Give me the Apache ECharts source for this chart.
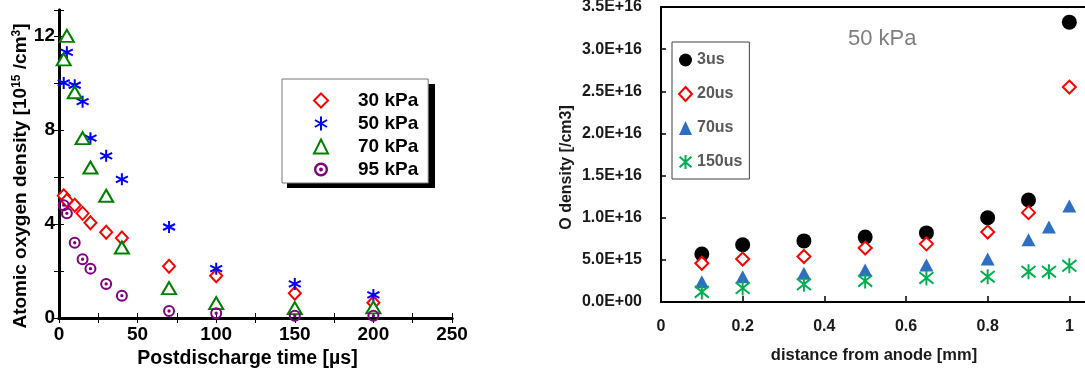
<!DOCTYPE html>
<html>
<head>
<meta charset="utf-8">
<script src="https://cdn.jsdelivr.net/npm/echarts@6/dist/echarts.min.js"></script>
<style>html,body{margin:0;padding:0;background:#fff}#c{width:1085px;height:369px}</style>
</head>
<body>
<div id="c"></div>
<script>
// ---- Left chart data: postdischarge time [µs] vs atomic O density [1e15 /cm3]
const leftNames = ['30 kPa', '50 kPa', '70 kPa', '95 kPa'];
const p30 = [[3,5.2],[5,5.0],[10,4.8],[15,4.45],[20,4.05],[30,3.65],[40,3.4],[70,2.2],[100,1.8],[150,1.05],[200,0.65]];
const p50 = [[3,10.0],[5,11.3],[10,9.9],[15,9.2],[20,7.65],[30,6.9],[40,5.9],[70,3.87],[100,2.1],[150,1.45],[200,0.98]];
const p70 = [[3,11.0],[5,12.0],[10,9.6],[15,7.65],[20,6.4],[30,5.2],[40,3.0],[70,1.27],[100,0.63],[150,0.42],[200,0.45]];
const p95 = [[3,4.8],[5,4.45],[10,3.2],[15,2.5],[20,2.1],[30,1.45],[40,0.95],[70,0.3],[100,0.2],[150,0.1],[200,0.1]];

// ---- Right chart data: distance from anode [mm] vs O density [/cm3]
const rightNames = ['3us', '20us', '70us', '150us'];
const d3  = [[0.1,5.7e15],[0.2,6.8e15],[0.35,7.25e15],[0.5,7.7e15],[0.65,8.2e15],[0.8,1.0e16],[0.9,1.21e16],[1.0,3.32e16]];
const d20 = [[0.1,4.6e15],[0.2,5.1e15],[0.35,5.4e15],[0.5,6.4e15],[0.65,6.9e15],[0.8,8.3e15],[0.9,1.06e16],[1.0,2.55e16]];
const d70 = [[0.1,2.4e15],[0.2,3.0e15],[0.35,3.4e15],[0.5,3.8e15],[0.65,4.4e15],[0.8,5.1e15],[0.9,7.4e15],[0.95,8.9e15],[1.0,1.14e16]];
const d150= [[0.1,1.2e15],[0.2,1.65e15],[0.35,2.1e15],[0.5,2.5e15],[0.65,2.85e15],[0.8,3.0e15],[0.9,3.6e15],[0.95,3.6e15],[1.0,4.3e15]];
const panelTitle = '50 kPa';

const ASTER6 = 'path://M50,0 L50,100 M6.7,25 L93.3,75 M6.7,75 L93.3,25';
const ASTERX = 'path://M50,0 L50,100 M8,12 L92,88 M8,88 L92,12';
const CIRCDOT = 'path://M50,0 A50,50 0 1,1 50,100 A50,50 0 1,1 50,0 Z M50,17 A33,33 0 1,0 50,83 A33,33 0 1,0 50,17 Z M50,36 A14,14 0 1,1 50,64 A14,14 0 1,1 50,36 Z';

const FONT = 'Liberation Sans, Arial, sans-serif';

function sciLabel(v) {
  if (v === 0) return '0.0E+00';
  const e = Math.floor(Math.log10(v) + 1e-9);
  const m = v / Math.pow(10, e);
  return m.toFixed(1) + 'E+' + (e < 10 ? '0' + e : e);
}

const chart = echarts.init(document.getElementById('c'), null, {renderer: 'canvas'});

const lAxisLine = {show: true, lineStyle: {color: '#000', width: 3}};
const rAxisLine = {show: true, lineStyle: {color: '#000', width: 2}};

const option = {
  animation: false,
  backgroundColor: '#fff',
  title: {
    text: panelTitle, left: 843, top: 23,
    textStyle: {color: '#7f7f7f', fontSize: 22, fontWeight: 'normal', fontFamily: FONT}
  },
  graphic: [
    {type: 'rect', z: 1, shape: {x: 287, y: 84, width: 148, height: 104}, style: {fill: '#000'}}
  ],
  grid: [
    {left: 59, top: 10, width: 393, height: 308, outerBoundsMode: 'none', containLabel: false},
    {left: 661, top: 7, width: 490, height: 295, outerBoundsMode: 'none', containLabel: false}
  ],
  legend: [
    {
      data: leftNames, orient: 'vertical', left: 282, top: 79, z: 5,
      padding: [12, 10, 4, 31], itemWidth: 14, itemHeight: 14, itemGap: 4,
      backgroundColor: '#fff', borderColor: '#777', borderWidth: 1,
      formatter: '{a|{name}}',
      textStyle: {color: '#000', fontSize: 19, fontWeight: 'bold', fontFamily: FONT,
        rich: {a: {padding: [0, 0, 0, 25], fontSize: 19, fontWeight: 'bold', fontFamily: FONT, color: '#000'}}}
    },
    {
      data: rightNames, orient: 'vertical', left: 672, top: 42,
      padding: [10, 7, 9, 6], itemWidth: 13, itemHeight: 14, itemGap: 18,
      backgroundColor: '#fff', borderColor: '#404040', borderWidth: 1,
      textStyle: {color: '#595959', fontSize: 16, fontWeight: 'bold', fontFamily: FONT}
    }
  ],
  xAxis: [
    {
      gridIndex: 0, type: 'value', min: 0, max: 250, interval: 25,
      name: 'Postdischarge time [µs]', nameLocation: 'middle', nameGap: 31,
      nameTextStyle: {color: '#000', fontSize: 19.5, fontWeight: 'bold', fontFamily: FONT, padding: [0, 16, 0, 0]},
      axisLine: lAxisLine, splitLine: {show: false},
      axisTick: {show: true, inside: true, length: 5, lineStyle: {color: '#000', width: 1}},
      axisLabel: {color: '#000', fontSize: 19, fontWeight: 'bold', fontFamily: FONT, margin: 7,
        formatter: v => (v % 50 === 0 ? String(v) : '')}
    },
    {
      gridIndex: 0, type: 'value', position: 'top', min: 0, max: 250, interval: 25,
      axisLine: lAxisLine, splitLine: {show: false},
      axisTick: {show: true, inside: true, length: 5, lineStyle: {color: '#000', width: 1}},
      axisLabel: {show: false}
    },
    {
      gridIndex: 1, type: 'value', min: 0, max: 1.2, interval: 0.2,
      name: 'distance from anode [mm]', nameLocation: 'middle', nameGap: 45,
      nameTextStyle: {color: '#1a1a1a', fontSize: 16.5, fontWeight: 'bold', fontFamily: FONT, padding: [0, 64, 0, 0]},
      axisLine: rAxisLine, splitLine: {show: false},
      axisTick: {show: true, inside: true, length: 6, lineStyle: {color: '#000', width: 1.5}},
      axisLabel: {color: '#1a1a1a', fontSize: 16, fontWeight: 'bold', fontFamily: FONT, margin: 17}
    },
    {
      gridIndex: 1, type: 'value', position: 'top', min: 0, max: 1.2,
      axisLine: rAxisLine, splitLine: {show: false}, axisTick: {show: false}, axisLabel: {show: false}
    }
  ],
  yAxis: [
    {
      gridIndex: 0, type: 'value', min: 0, max: 13.1, interval: 2,
      name: 'Atomic oxygen density [10{s|15} /cm{s|3}]', nameLocation: 'middle', nameGap: 22,
      nameTextStyle: {color: '#000', fontSize: 19, fontWeight: 'bold', fontFamily: FONT, padding: [0, 24, 0, 0],
        rich: {s: {fontSize: 12, fontWeight: 'bold', verticalAlign: 'top', color: '#000', fontFamily: FONT}}},
      axisLine: lAxisLine, splitLine: {show: false},
      axisTick: {show: true, inside: true, length: 5, lineStyle: {color: '#000', width: 1}},
      axisLabel: {color: '#000', fontSize: 19, fontWeight: 'bold', fontFamily: FONT, margin: 4,
        formatter: v => (v % 4 === 0 ? String(v) : '')}
    },
    {
      gridIndex: 0, type: 'value', position: 'right', min: 0, max: 13.1, interval: 2,
      axisLine: lAxisLine, splitLine: {show: false},
      axisTick: {show: true, inside: true, length: 5, lineStyle: {color: '#000', width: 1}},
      axisLabel: {show: false}
    },
    {
      gridIndex: 1, type: 'value', min: 0, max: 3.5e16, interval: 5e15,
      name: 'O density [/cm3]', nameLocation: 'middle', nameGap: 86,
      nameTextStyle: {color: '#1a1a1a', fontSize: 16, fontWeight: 'bold', fontFamily: FONT, padding: [0, 26, 0, 0]},
      axisLine: rAxisLine, splitLine: {show: false},
      axisTick: {show: true, inside: true, length: 5, lineStyle: {color: '#000', width: 1.5}},
      axisLabel: {color: '#1a1a1a', fontSize: 16, fontWeight: 'bold', fontFamily: FONT, margin: 19,
        formatter: sciLabel}
    }
  ],
  series: [
    {name: leftNames[0], type: 'scatter', xAxisIndex: 0, yAxisIndex: 0, data: p30,
      symbol: 'diamond', symbolSize: [12, 13],
      itemStyle: {color: '#fff', borderColor: '#ff0000', borderWidth: 2, opacity: 1}},
    {name: leftNames[1], type: 'scatter', xAxisIndex: 0, yAxisIndex: 0, data: p50,
      symbol: ASTER6, symbolSize: 12,
      itemStyle: {color: 'rgba(0,0,0,0)', borderColor: '#0000ff', borderWidth: 2, opacity: 1}},
    {name: leftNames[2], type: 'scatter', xAxisIndex: 0, yAxisIndex: 0, data: p70,
      symbol: 'triangle', symbolSize: [14, 12],
      itemStyle: {color: '#fff', borderColor: '#008000', borderWidth: 2, opacity: 1}},
    {name: leftNames[3], type: 'scatter', xAxisIndex: 0, yAxisIndex: 0, data: p95,
      symbol: CIRCDOT, symbolSize: 12,
      itemStyle: {color: '#800080', opacity: 1}},

    {name: rightNames[0], type: 'scatter', xAxisIndex: 2, yAxisIndex: 2, data: d3,
      symbol: 'circle', symbolSize: 15, itemStyle: {color: '#000', opacity: 1}},
    {name: rightNames[1], type: 'scatter', xAxisIndex: 2, yAxisIndex: 2, data: d20,
      symbol: 'diamond', symbolSize: 13,
      itemStyle: {color: '#fff', borderColor: '#ff0000', borderWidth: 2, opacity: 1}},
    {name: rightNames[2], type: 'scatter', xAxisIndex: 2, yAxisIndex: 2, data: d70,
      symbol: 'triangle', symbolSize: [14, 13], itemStyle: {color: '#2e6fc2', opacity: 1}},
    {name: rightNames[3], type: 'scatter', xAxisIndex: 2, yAxisIndex: 2, data: d150,
      symbol: ASTERX, symbolSize: [14, 15],
      itemStyle: {color: 'rgba(0,0,0,0)', borderColor: '#00b050', borderWidth: 2, opacity: 1}}
  ]
};
chart.setOption(option);
</script>
</body>
</html>
